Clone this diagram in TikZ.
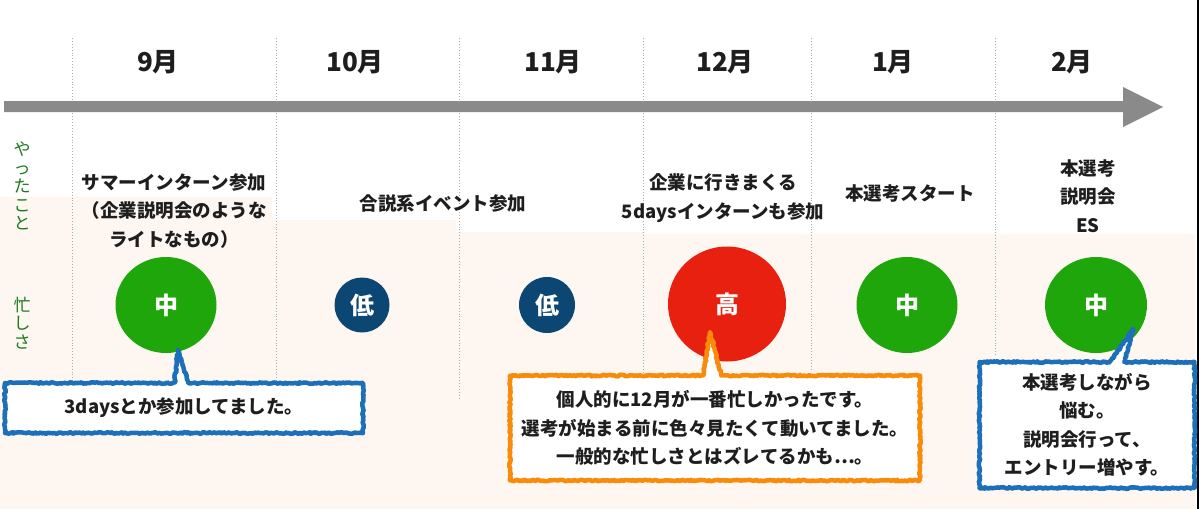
\documentclass[tikz,border=0pt]{standalone}
\usepackage{fontspec}
\setmainfont{Noto Sans CJK JP}
\usetikzlibrary{shapes.geometric,shapes.callouts,decorations.pathmorphing}

\definecolor{peach}{RGB}{253,246,241}
\definecolor{bar}{RGB}{138,138,138}
\definecolor{ink}{RGB}{30,30,30}
\definecolor{midgreen}{RGB}{30,166,10}
\definecolor{lownavy}{RGB}{12,70,115}
\definecolor{highred}{RGB}{232,32,15}
\definecolor{memoblue}{RGB}{28,111,184}
\definecolor{memoorange}{RGB}{249,139,11}
\definecolor{labelgreen}{RGB}{26,122,26}

\tikzset{
  month/.style={font=\fontsize{26}{28}\selectfont\bfseries},
  todo/.style={align=center, font=\fontsize{18.5}{28.5}\selectfont\bfseries},
  side/.style={align=center, text=labelgreen, font=\fontsize{17}{18.5}\selectfont},
  level/.style={ellipse, text=white, font=\fontsize{24}{26}\selectfont\bfseries},
  memo/.style={rectangle callout, fill=white, line width=4.5pt, line join=round,
    align=center, font=\fontsize{18.5}{28.5}\selectfont\bfseries,
    decorate, decoration={random steps, segment length=1.5pt, amplitude=0.8pt}},
}

\begin{document}
\begin{tikzpicture}[x=1pt, y=-1pt, every node/.style={inner sep=0pt, text=ink}]
    \path[use as bounding box] (0,0) rectangle (1200,509);
    % background
    \fill[peach] (0,197) rectangle (272,509);
    \fill[peach] (272,220) rectangle (456,509);
    \fill[peach] (456,232) rectangle (643,509);
    \fill[peach] (643,234) rectangle (1195,509);
    \draw[black, line width=1.5pt] (1198,0) -- (1198,509);

    % month separators
    \foreach \x/\y in {72/381, 276/381, 459/400, 643/372, 811/370, 995/357}
      \draw[bar!70, dotted, line width=0.9pt] (\x,38) -- (\x,\y);

    % time arrow
    \fill[bar] (4,101) -- (1123,101) -- (1123,87) -- (1163,107) -- (1123,127)
      -- (1123,112) -- (4,112) -- cycle;

    \node[month] (sep) at (158,62) {9月};
    \node[month] (oct) at (355,62) {10月};
    \node[month] (nov) at (553,62) {11月};
    \node[month] (dec) at (725,62) {12月};
    \node[month] (jan) at (893,62) {1月};
    \node[month] (feb) at (1072,62) {2月};

    \node[side] (did) at (22,186) {や\\っ\\た\\こ\\と};
    \node[side] (busy) at (22,323) {忙\\し\\さ};

    % what I did
    \node[todo] (tsep) at (174,211) {サマーインターン参加\\（企業説明会のような\\ライトなもの）};
    \node[todo] (toct) at (443,203) {合説系イベント参加};
    \node[todo] (tdec) at (723,198) {企業に行きまくる\\5daysインターンも参加};
    \node[todo] (tjan) at (910,193) {本選考スタート};
    \node[todo] (tfeb) at (1088,196) {本選考\\説明会\\ES};

    % how busy
    \node[level, fill=midgreen, minimum width=101pt, minimum height=96pt] (bsep) at (166,305) {中};
    \node[level, fill=lownavy, minimum size=55pt] (boct) at (362,305) {低};
    \node[level, fill=lownavy, minimum size=56pt] (bnov) at (547,305) {低};
    \node[level, fill=highred, minimum width=118pt, minimum height=115pt] (bdec) at (727,304) {高};
    \node[level, fill=midgreen, minimum width=101pt, minimum height=96pt] (bjan) at (907,305) {中};
    \node[level, fill=midgreen, minimum width=102pt, minimum height=96pt] (bfeb) at (1096,305) {中};

    % comments
    \coordinate (psep) at (178,350);
    \coordinate (pdec) at (710,332);
    \coordinate (pfeb) at (1133,329);
    \node[memo, draw=memoblue, minimum width=358pt, minimum height=50pt,
      callout absolute pointer={(psep)}, callout pointer width=14pt] (msep) at (184,408)
      {3daysとか参加してました。};
    \node[memo, draw=memoorange, minimum width=410pt, minimum height=105pt,
      callout absolute pointer={(pdec)}, callout pointer width=18pt] (mdec) at (715,428)
      {個人的に12月が一番忙しかったです。\\選考が始まる前に色々見たくて動いてました。\\一般的な忙しさとはズレてるかも…。};
    \node[memo, draw=memoblue, minimum width=215pt, minimum height=126pt,
      callout absolute pointer={(pfeb)}, callout pointer width=14pt] (mfeb) at (1087,425)
      {本選考しながら\\悩む。\\説明会行って、\\エントリー増やす。};
\end{tikzpicture}
\end{document}
